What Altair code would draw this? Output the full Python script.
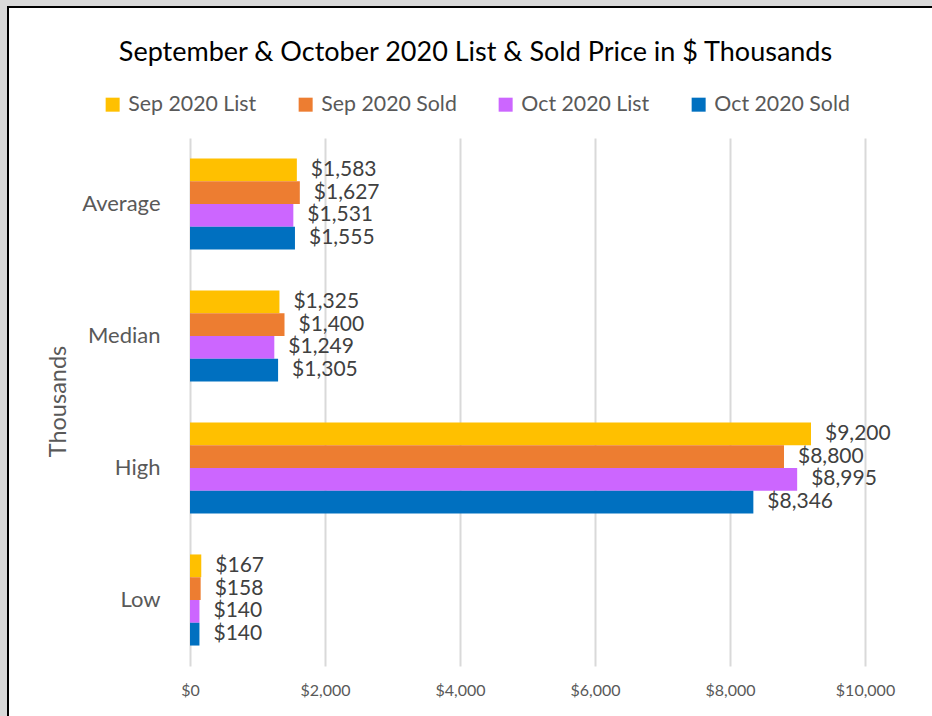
import altair as alt
import pandas as pd

categories = ["Average", "Median", "High", "Low"]
series = ["Sep 2020 List", "Sep 2020 Sold", "Oct 2020 List", "Oct 2020 Sold"]
sep_list = [1583, 1325, 9200, 167]
sep_sold = [1627, 1400, 8800, 158]
oct_list = [1531, 1249, 8995, 140]
oct_sold = [1555, 1305, 8346, 140]
colors = ["#FFC000", "#ED7D31", "#CC66FF", "#0070C0"]
x_ticks = [0, 2000, 4000, 6000, 8000, 10000]

rows = []
for s, vals in zip(series, [sep_list, sep_sold, oct_list, oct_sold]):
    for c, v in zip(categories, vals):
        rows.append({"category": c, "series": s, "value": v})
df = pd.DataFrame(rows)

FONT = "Lato"
W, H = 675, 528
LEFT, TOP = 190, 138
CW, CH = 932, 716

base = alt.Chart(df)

y_enc = alt.Y(
    "category:N",
    sort=categories,
    scale=alt.Scale(paddingInner=0.31, paddingOuter=0.155),
    axis=alt.Axis(
        title="Thousands",
        titleFontSize=23.5,
        titleFont=FONT,
        titleFontWeight="normal",
        titleColor="#595959",
        titleX=-132,
        titleY=263,
        titleAngle=270,
        titleAlign="center",
        titleBaseline="middle",
        labelFontSize=22,
        labelFont=FONT,
        labelColor="#595959",
        labelPadding=30,
        domain=False,
        ticks=False,
        grid=False,
    ),
)
x_enc = alt.X(
    "value:Q",
    scale=alt.Scale(domain=[0, 10000], nice=False),
    axis=alt.Axis(
        title=None,
        values=x_ticks,
        format="$,.0f",
        labelFontSize=16,
        labelFont=FONT,
        labelColor="#595959",
        labelPadding=16,
        labelFlush=False,
        domain=False,
        ticks=False,
        grid=True,
        gridColor="#d9d9d9",
        gridWidth=2,
    ),
)
yoff = alt.YOffset("series:N", sort=series)

bars = base.mark_bar().encode(
    x=x_enc,
    y=y_enc,
    yOffset=yoff,
    color=alt.Color(
        "series:N",
        sort=series,
        scale=alt.Scale(domain=series, range=colors),
        legend=alt.Legend(
            title=None,
            orient="none",
            direction="horizontal",
            legendX=-88,
            legendY=-44,
            symbolType="square",
            symbolSize=196,
            symbolStrokeWidth=0,
            labelFont=FONT,
            labelFontSize=21.3,
            labelColor="#595959",
            labelOffset=5,
            columnPadding=38,
            padding=0,
            labelLimit=300,
        ),
    ),
)

labels = base.mark_text(
    align="left", baseline="middle", dx=14, fontSize=21, font=FONT, color="#404040"
).encode(
    x=alt.X("value:Q"),
    y=alt.Y("category:N", sort=categories),
    yOffset=yoff,
    text=alt.Text("value:Q", format="$,.0f"),
)

frame_df = pd.DataFrame({"k": [0]})
outer = alt.Chart(frame_df).mark_rect(fillOpacity=0, stroke="#d9d9d9", strokeWidth=14).encode(
    x=alt.value(-LEFT), y=alt.value(-TOP), x2=alt.value(CW - LEFT + 20), y2=alt.value(CH - TOP + 20)
)
border = alt.Chart(frame_df).mark_rect(fillOpacity=0, stroke="#000000", strokeWidth=2).encode(
    x=alt.value(8 - LEFT), y=alt.value(7 - TOP), x2=alt.value(CW - LEFT + 20), y2=alt.value(CH - TOP + 20)
)

chart = alt.layer(outer, border, bars, labels).properties(
    width=W,
    height=H,
    title=alt.TitleParams(
        "September & October 2020 List & Sold Price in $ Thousands",
        font=FONT,
        fontSize=27,
        fontWeight="normal",
        color="#000000",
        anchor="middle",
        frame="group",
        offset=0,
        dx=-52,
        dy=74,
    ),
    autosize=alt.AutoSizeParams(type="none"),
    padding={"left": LEFT, "top": TOP, "right": CW - LEFT - W, "bottom": CH - TOP - H},
    background="#ffffff",
).configure_view(strokeWidth=0)

chart.save("out.html", embed_options={"renderer": "svg", "actions": False})
